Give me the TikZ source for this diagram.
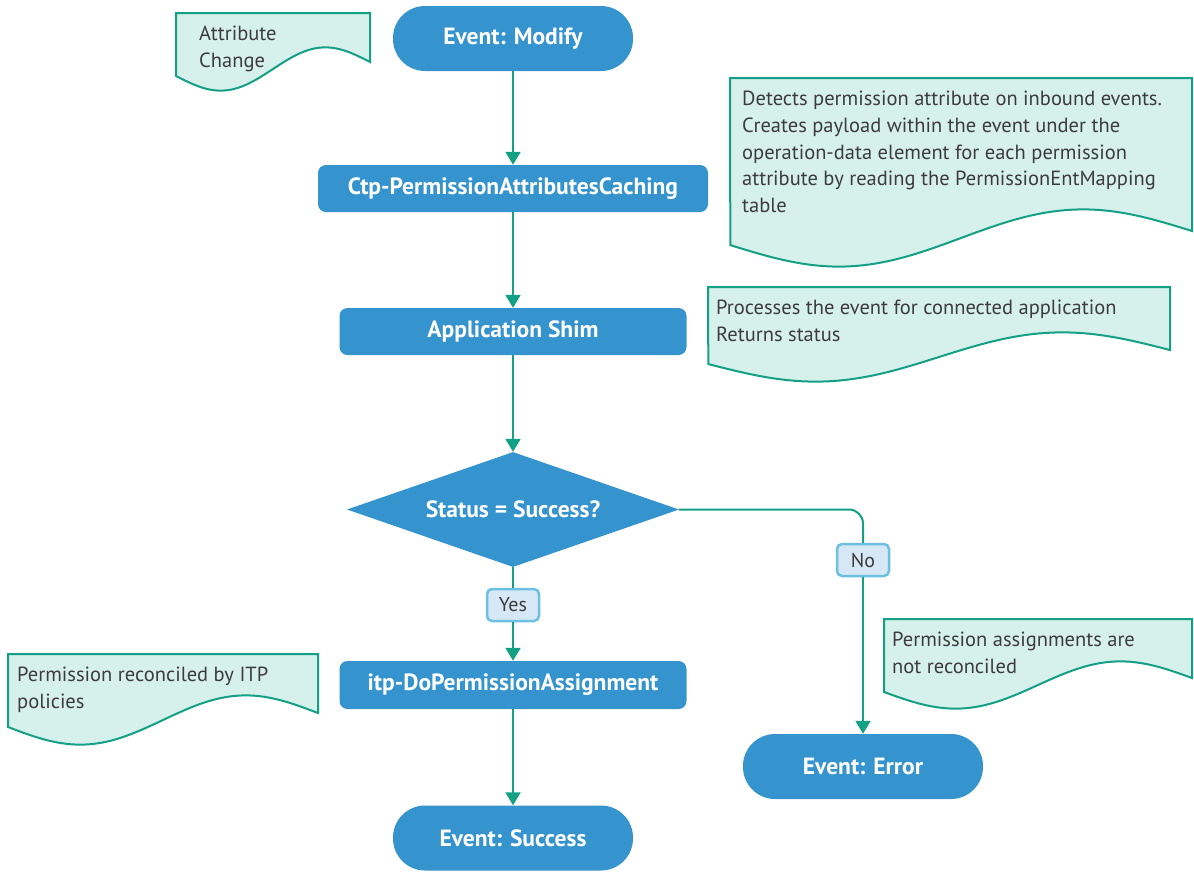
\documentclass[tikz,border=0pt]{standalone}
\usepackage{fontspec}
\setmainfont{PT Sans}
\usetikzlibrary{shapes.geometric,arrows.meta}

\definecolor{boxblue}{HTML}{3593CE}
\definecolor{flowteal}{HTML}{14A085}
\definecolor{notefill}{HTML}{D6F0EC}
\definecolor{tagfill}{HTML}{D6E8F5}
\definecolor{tagline}{HTML}{6CC0E2}
\definecolor{textgray}{HTML}{3C3C3C}

% note with a wavy lower edge: name, x, y, width, height, wave, text pad, text
\newcommand{\notebox}[8]{%
  \draw[note] (#2,#3) -- ++(#4,0)
    -- plot[domain=1:0,samples=60,smooth] ({#2+\x*#4},{#3+#5+#6*sin(360*\x)-14*\x}) -- cycle;
  \node[notetext] (#1) at (#2+#7,#3+13) {#8};
}

\begin{document}
\begin{tikzpicture}[x=1pt,y=-1pt,
    step box/.style={fill=boxblue, text=white, font=\bfseries\fontsize{23.5}{27}\selectfont,
      minimum height=47pt, rounded corners=8pt, inner sep=0pt},
    terminal/.style={step box, minimum width=240pt, minimum height=65pt, rounded corners=32pt},
    decision/.style={diamond, fill=boxblue, text=white, font=\bfseries\fontsize{23.5}{27}\selectfont,
      minimum width=332pt, minimum height=115pt, aspect=2.89, inner sep=0pt},
    tag/.style={fill=tagfill, draw=tagline, line width=2.5pt, rounded corners=5pt, text=textgray,
      font=\fontsize{20}{24}\selectfont, minimum width=52pt, minimum height=32pt, inner sep=0pt},
    note/.style={fill=notefill, draw=flowteal, line width=2pt},
    notetext/.style={anchor=north west, inner sep=0pt, align=left, text=textgray,
      font=\fontsize{20.5}{26.7}\selectfont},
    flow/.style={draw=flowteal, line width=2pt},
    arrow/.style={flow, -{Triangle[width=15pt,length=13pt]}}]
  \useasboundingbox (0,0) rectangle (1194,871);

  \node[terminal] (modify) at (513,38.5) {Event: Modify};
  \node[step box, minimum width=390pt] (cache) at (513,188.5) {Ctp-PermissionAttributesCaching};
  \node[step box, minimum width=347pt] (shim) at (513,331.5) {Application Shim};
  \node[decision] (status) at (513,509.5) {Status = Success?};
  \node[tag] (yes) at (513,605) {Yes};
  \node[step box, minimum width=347pt, minimum height=48pt] (assign) at (513,685) {itp-DoPermissionAssignment};
  \node[terminal] (success) at (513,838) {Event: Success};
  \node[tag] (no) at (863,560) {No};
  \node[terminal] (error) at (863,766.5) {Event: Error};

  \draw[arrow] (modify) -- (cache);
  \draw[arrow] (cache) -- (shim);
  \draw[arrow] (shim) -- (status);
  \draw[flow] (status) -- (yes);
  \draw[arrow] (yes) -- (assign);
  \draw[arrow] (assign) -- (success);
  \draw[flow, rounded corners=14pt] (status.east) -| (no.north);
  \draw[arrow] (no) -- (error);

  \notebox{attrnote}{176}{13}{194}{63}{18}{23}{Attribute\\Change}
  \notebox{cachenote}{730}{78}{462}{167}{25}{12}{Detects permission attribute on inbound events.\\Creates payload within the event under the\\operation-data element for each permission\\attribute by reading the PermissionEntMapping\\table}
  \notebox{shimnote}{708}{287}{462}{77}{21}{8}{Processes the event for connected application\\Returns status}
  \notebox{assignnote}{8}{654}{310}{73}{21}{9}{Permission reconciled by ITP\\policies}
  \notebox{errornote}{884}{619}{308}{73}{20}{8}{Permission assignments are\\not reconciled}
\end{tikzpicture}
\end{document}
